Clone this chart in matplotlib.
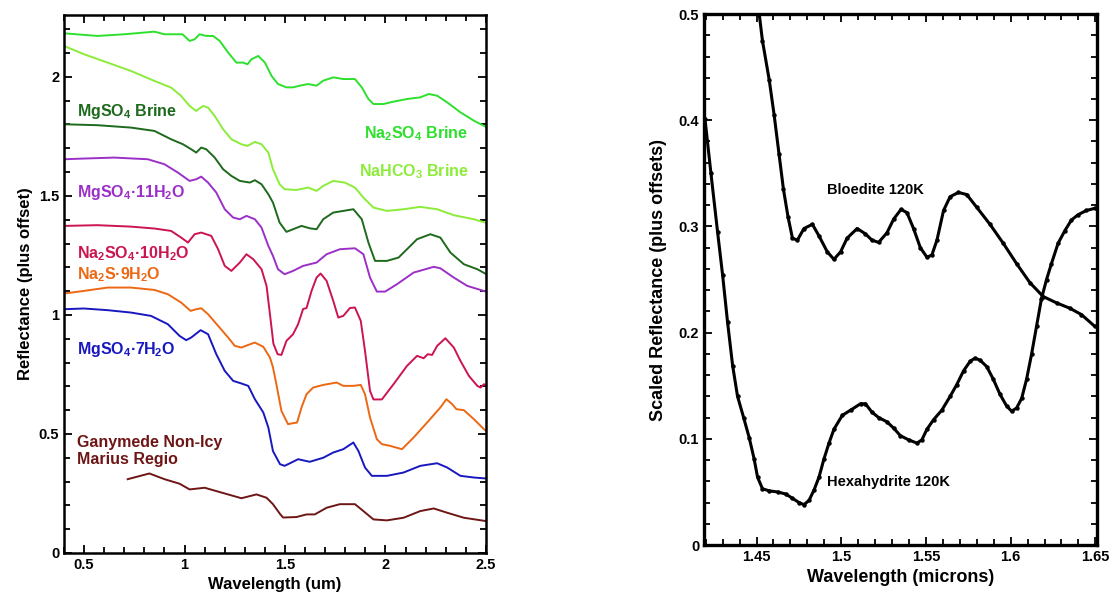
import numpy as np
import matplotlib
matplotlib.use('Agg')
import matplotlib.pyplot as plt
from matplotlib.ticker import MultipleLocator, FuncFormatter

plt.rcParams['font.family'] = ['Liberation Sans', 'DejaVu Sans']
plt.rcParams['font.weight'] = 'bold'
plt.rcParams['mathtext.fontset'] = 'custom'
plt.rcParams['mathtext.rm'] = 'Liberation Sans:bold'
plt.rcParams['mathtext.default'] = 'rm'

# ---- left panel: lab spectra (offset) ----
na2so4_brine_wl = [0.40, 0.567, 0.70, 0.85, 0.90, 0.99, 1.025, 1.05, 1.075, 1.108, 1.142, 1.175, 1.217, 1.258,
                   1.292, 1.313, 1.333, 1.367, 1.40, 1.433, 1.465, 1.507, 1.54, 1.573, 1.615, 1.657, 1.69, 1.74,
                   1.79, 1.848, 1.882, 1.915, 1.94, 1.99, 2.04, 2.107, 2.173, 2.215, 2.257, 2.307, 2.373, 2.44, 2.5]
na2so4_brine_r = [2.183, 2.172, 2.179, 2.190, 2.179, 2.179, 2.151, 2.158, 2.179, 2.172, 2.172, 2.151, 2.102, 2.060,
                  2.060, 2.053, 2.074, 2.088, 2.060, 2.004, 1.970, 1.956, 1.956, 1.963, 1.970, 1.963, 1.984, 1.998,
                  1.991, 1.991, 1.956, 1.907, 1.886, 1.886, 1.896, 1.907, 1.914, 1.928, 1.921, 1.893, 1.851, 1.816, 1.790]

nahco3_brine_wl = [0.40, 0.50, 0.617, 0.733, 0.85, 0.933, 0.983, 1.025, 1.058, 1.092, 1.117, 1.15, 1.192, 1.233,
                   1.283, 1.313, 1.35, 1.383, 1.417, 1.44, 1.473, 1.498, 1.557, 1.615, 1.657, 1.69, 1.74, 1.798,
                   1.848, 1.89, 1.94, 2.007, 2.09, 2.173, 2.257, 2.34, 2.44, 2.5]
nahco3_brine_r = [2.130, 2.095, 2.060, 2.025, 1.983, 1.955, 1.920, 1.878, 1.857, 1.878, 1.871, 1.836, 1.780, 1.738,
                  1.717, 1.710, 1.727, 1.717, 1.682, 1.612, 1.549, 1.528, 1.525, 1.535, 1.521, 1.542, 1.563, 1.556,
                  1.535, 1.493, 1.451, 1.437, 1.444, 1.454, 1.444, 1.419, 1.402, 1.387]

mgso4_brine_wl = [0.40, 0.567, 0.733, 0.85, 0.933, 0.992, 1.033, 1.058, 1.083, 1.108, 1.15, 1.192, 1.233, 1.275,
                  1.325, 1.35, 1.383, 1.417, 1.44, 1.473, 1.507, 1.54, 1.582, 1.623, 1.657, 1.69, 1.74, 1.79, 1.84,
                  1.882, 1.915, 1.948, 2.007, 2.065, 2.107, 2.157, 2.223, 2.273, 2.323, 2.39, 2.457, 2.5]
mgso4_brine_r = [1.801, 1.797, 1.787, 1.773, 1.738, 1.717, 1.696, 1.682, 1.703, 1.696, 1.661, 1.612, 1.584, 1.563,
                 1.556, 1.566, 1.549, 1.507, 1.472, 1.388, 1.349, 1.360, 1.374, 1.364, 1.360, 1.402, 1.430, 1.437, 1.444,
                 1.402, 1.304, 1.227, 1.227, 1.241, 1.276, 1.318, 1.339, 1.325, 1.262, 1.213, 1.192, 1.172]

mgso4_11_wl = [0.40, 0.50, 0.65, 0.817, 0.90, 0.967, 1.025, 1.058, 1.083, 1.117, 1.158, 1.20, 1.242, 1.275, 1.308,
               1.35, 1.383, 1.417, 1.44, 1.465, 1.498, 1.54, 1.59, 1.657, 1.707, 1.773, 1.848, 1.89, 1.923, 1.957,
               1.998, 2.057, 2.14, 2.24, 2.273, 2.34, 2.407, 2.5]
mgso4_11_r = [1.654, 1.657, 1.661, 1.654, 1.633, 1.598, 1.563, 1.570, 1.581, 1.556, 1.514, 1.444, 1.409, 1.402, 1.416,
              1.402, 1.367, 1.290, 1.248, 1.192, 1.171, 1.185, 1.206, 1.220, 1.255, 1.276, 1.280, 1.255, 1.157, 1.098,
              1.098, 1.129, 1.178, 1.202, 1.196, 1.157, 1.122, 1.098]

na2so4_10_wl = [0.40, 0.567, 0.733, 0.85, 0.933, 0.983, 1.017, 1.05, 1.083, 1.133, 1.167, 1.20, 1.233, 1.275, 1.308,
                1.342, 1.383, 1.408, 1.425, 1.442, 1.463, 1.482, 1.507, 1.54, 1.565, 1.59, 1.607, 1.632, 1.657, 1.677,
                1.707, 1.74, 1.765, 1.79, 1.823, 1.848, 1.877, 1.898, 1.923, 1.94, 1.982, 2.04, 2.107, 2.157, 2.19,
                2.21, 2.232, 2.257, 2.298, 2.34, 2.373, 2.415, 2.457, 2.473, 2.49, 2.5]
na2so4_10_r = [1.374, 1.377, 1.371, 1.363, 1.353, 1.325, 1.304, 1.339, 1.346, 1.332, 1.276, 1.206, 1.185, 1.220, 1.255,
               1.234, 1.192, 1.122, 1.003, 0.880, 0.835, 0.832, 0.891, 0.919, 0.961, 1.025, 1.029, 1.101, 1.157, 1.174,
               1.143, 1.059, 0.989, 0.996, 1.029, 1.031, 0.975, 0.849, 0.681, 0.645, 0.645, 0.709, 0.786, 0.828, 0.818,
               0.835, 0.832, 0.870, 0.902, 0.863, 0.807, 0.744, 0.702, 0.695, 0.709, 0.702]

na2s_9_wl = [0.40, 0.50, 0.617, 0.733, 0.85, 0.917, 0.983, 1.03, 1.058, 1.083, 1.117, 1.167, 1.217, 1.25, 1.283,
             1.317, 1.35, 1.392, 1.425, 1.44, 1.457, 1.482, 1.515, 1.532, 1.56, 1.582, 1.607, 1.64, 1.69, 1.757,
             1.79, 1.84, 1.877, 1.898, 1.923, 1.957, 1.982, 2.023, 2.082, 2.14, 2.207, 2.273, 2.303, 2.332, 2.353,
             2.39, 2.44, 2.49, 2.5]
na2s_9_r = [1.090, 1.101, 1.115, 1.115, 1.105, 1.087, 1.052, 1.017, 1.024, 1.028, 1.003, 0.954, 0.905, 0.870, 0.863,
            0.874, 0.884, 0.866, 0.821, 0.780, 0.709, 0.597, 0.541, 0.544, 0.548, 0.611, 0.667, 0.695, 0.706, 0.716,
            0.702, 0.702, 0.706, 0.667, 0.569, 0.478, 0.457, 0.450, 0.436, 0.485, 0.548, 0.611, 0.646, 0.625, 0.604,
            0.600, 0.562, 0.520, 0.513]

mgso4_7_wl = [0.40, 0.50, 0.617, 0.733, 0.833, 0.917, 0.975, 1.008, 1.033, 1.08, 1.117, 1.158, 1.20, 1.242, 1.283,
              1.317, 1.35, 1.392, 1.417, 1.44, 1.475, 1.498, 1.532, 1.565, 1.623, 1.69, 1.74, 1.79, 1.815, 1.84,
              1.865, 1.898, 1.932, 2.007, 2.09, 2.173, 2.257, 2.307, 2.373, 2.44, 2.5]
mgso4_7_r = [1.024, 1.027, 1.020, 1.010, 0.996, 0.961, 0.912, 0.894, 0.905, 0.936, 0.919, 0.835, 0.765, 0.723, 0.712,
             0.702, 0.646, 0.590, 0.527, 0.428, 0.373, 0.366, 0.380, 0.394, 0.383, 0.400, 0.422, 0.436, 0.450, 0.464,
             0.429, 0.359, 0.324, 0.324, 0.338, 0.366, 0.377, 0.359, 0.324, 0.317, 0.313]

ganymede_wl = [0.717, 0.825, 0.90, 0.975, 1.025, 1.10, 1.183, 1.283, 1.358, 1.408, 1.44, 1.475, 1.49, 1.557, 1.607,
               1.648, 1.707, 1.773, 1.848, 1.89, 1.94, 2.007, 2.09, 2.173, 2.24, 2.307, 2.39, 2.5]
ganymede_r = [0.310, 0.334, 0.310, 0.291, 0.267, 0.274, 0.254, 0.230, 0.246, 0.232, 0.205, 0.164, 0.149, 0.151, 0.162,
              0.162, 0.190, 0.205, 0.205, 0.176, 0.141, 0.137, 0.148, 0.176, 0.187, 0.169, 0.148, 0.134]

# ---- right panel: 120K lab spectra ----
bloedite_wl = [1.4516, 1.4535, 1.4575, 1.4604, 1.4633, 1.4659, 1.4686, 1.4712, 1.4741, 1.478, 1.483, 1.4869, 1.4918,
               1.4957, 1.4996, 1.5035, 1.5094, 1.5143, 1.5182, 1.5221, 1.527, 1.531, 1.5353, 1.5388, 1.5427, 1.5467,
               1.5506, 1.5535, 1.5565, 1.5604, 1.5643, 1.5692, 1.5741, 1.58, 1.5878, 1.5957, 1.6035, 1.6114, 1.6192,
               1.6271, 1.6349, 1.6418, 1.6496]
bloedite_r = [0.500, 0.475, 0.438, 0.405, 0.368, 0.335, 0.309, 0.289, 0.287, 0.298, 0.302, 0.291, 0.276,
              0.269, 0.276, 0.289, 0.298, 0.293, 0.287, 0.285, 0.294, 0.307, 0.316, 0.313, 0.298, 0.280,
              0.271, 0.273, 0.287, 0.315, 0.328, 0.332, 0.330, 0.318, 0.302, 0.284, 0.265, 0.247, 0.234,
              0.228, 0.223, 0.217, 0.206]

hexahydrite_wl = [1.4196, 1.4231, 1.427, 1.43, 1.4329, 1.4359, 1.4388, 1.4424, 1.4457, 1.4486, 1.4506, 1.4535, 1.4575,
                  1.4624, 1.4673, 1.4712, 1.4751, 1.478, 1.481, 1.484, 1.4869, 1.4898, 1.4928, 1.4957, 1.5006, 1.5055,
                  1.5114, 1.5143, 1.5182, 1.5221, 1.527, 1.531, 1.5349, 1.5398, 1.5447, 1.5476, 1.5506, 1.5545, 1.5594,
                  1.5643, 1.5682, 1.5722, 1.5761, 1.579, 1.582, 1.5859, 1.5898, 1.5937, 1.5976, 1.6006, 1.6035, 1.6065,
                  1.6094, 1.6124, 1.6153, 1.6182, 1.6212, 1.6241, 1.628, 1.632, 1.6359, 1.6398, 1.6447, 1.6496]
hexahydrite_r = [0.401, 0.350, 0.295, 0.254, 0.210, 0.169, 0.140, 0.120, 0.101, 0.081, 0.064, 0.053, 0.051,
                 0.050, 0.048, 0.044, 0.040, 0.038, 0.042, 0.052, 0.064, 0.081, 0.096, 0.109, 0.122, 0.127,
                 0.133, 0.133, 0.125, 0.120, 0.116, 0.110, 0.103, 0.099, 0.096, 0.099, 0.109, 0.118, 0.127,
                 0.140, 0.151, 0.164, 0.173, 0.176, 0.174, 0.168, 0.156, 0.142, 0.131, 0.126, 0.129, 0.138,
                 0.156, 0.180, 0.206, 0.232, 0.250, 0.265, 0.284, 0.296, 0.306, 0.311, 0.315, 0.317]

fmt = FuncFormatter(lambda v, p: '%g' % round(v, 3))

fig = plt.figure(figsize=(11.09, 6.07), dpi=100)
ax1 = fig.add_axes([0.0577, 0.089, 0.3805, 0.8863])
ax2 = fig.add_axes([0.6348, 0.1021, 0.3544, 0.8748])

series = [
    (na2so4_brine_wl, na2so4_brine_r, '#2ee02e'),
    (nahco3_brine_wl, nahco3_brine_r, '#8cec3a'),
    (mgso4_brine_wl, mgso4_brine_r, '#1d6a1d'),
    (mgso4_11_wl, mgso4_11_r, '#9b30c8'),
    (na2so4_10_wl, na2so4_10_r, '#cc1450'),
    (na2s_9_wl, na2s_9_r, '#ec6814'),
    (mgso4_7_wl, mgso4_7_r, '#1818c0'),
    (ganymede_wl, ganymede_r, '#6e1616'),
]
for wl, r, c in series:
    ax1.plot(wl, r, color=c, lw=1.4)

labels = [
    (0.465, 1.853, r'MgSO$_4$ Brine', '#1d6a1d', 'left'),
    (2.413, 1.760, r'Na$_2$SO$_4$ Brine', '#2ee02e', 'right'),
    (2.413, 1.602, r'NaHCO$_3$ Brine', '#8cec3a', 'right'),
    (0.465, 1.514, r'MgSO$_4$·11H$_2$O', '#9b30c8', 'left'),
    (0.465, 1.259, r'Na$_2$SO$_4$·10H$_2$O', '#cc1450', 'left'),
    (0.465, 1.171, r'Na$_2$S·9H$_2$O', '#ec6814', 'left'),
    (0.465, 0.856, r'MgSO$_4$·7H$_2$O', '#1818c0', 'left'),
    (0.465, 0.463, 'Ganymede Non-Icy', '#6e1616', 'left'),
    (0.465, 0.394, 'Marius Regio', '#6e1616', 'left'),
]
for x, y, t, c, ha in labels:
    ax1.text(x, y, t, color=c, ha=ha, va='center', fontsize=11.5, fontweight='bold')

ax1.set_xlim(0.4, 2.5)
ax1.set_ylim(0, 2.26)
ax1.xaxis.set_major_locator(MultipleLocator(0.5))
ax1.xaxis.set_minor_locator(MultipleLocator(0.1))
ax1.yaxis.set_major_locator(MultipleLocator(0.5))
ax1.yaxis.set_minor_locator(MultipleLocator(0.1))
ax1.set_xlabel('Wavelength (um)', fontsize=12, fontweight='bold')
ax1.set_ylabel('Reflectance (plus offset)', fontsize=12, fontweight='bold')

# right panel
ax2.plot(bloedite_wl, bloedite_r, color='black', lw=2.2, marker='o', ms=2.2)
ax2.plot(hexahydrite_wl, hexahydrite_r, color='black', lw=2.2, marker='o', ms=2.2)
ax2.text(1.4916, 0.334, 'Bloedite 120K', fontsize=10.5, fontweight='bold', va='center')
ax2.text(1.4916, 0.059, 'Hexahydrite 120K', fontsize=10.5, fontweight='bold', va='center')
ax2.set_xlim(1.419, 1.651)
ax2.set_ylim(0, 0.5)
ax2.xaxis.set_major_locator(MultipleLocator(0.05))
ax2.xaxis.set_minor_locator(MultipleLocator(0.01))
ax2.yaxis.set_major_locator(MultipleLocator(0.1))
ax2.yaxis.set_minor_locator(MultipleLocator(0.02))
ax2.set_xlabel('Wavelength (microns)', fontsize=13, fontweight='bold')
ax2.set_ylabel('Scaled Reflectance (plus offsets)', fontsize=13, fontweight='bold', labelpad=8)

for ax, lw in ((ax1, 1.8), (ax2, 2.4)):
    for s in ax.spines.values():
        s.set_linewidth(lw)
    ax.tick_params(which='both', direction='in', top=True, right=True, labelsize=10.5, width=1.3)
    ax.tick_params(which='major', length=6)
    ax.tick_params(which='minor', length=4)
    ax.xaxis.set_major_formatter(fmt)
    ax.yaxis.set_major_formatter(fmt)
    for lab in ax.get_xticklabels() + ax.get_yticklabels():
        lab.set_fontweight('bold')

plt.savefig('out.png', dpi=100)
